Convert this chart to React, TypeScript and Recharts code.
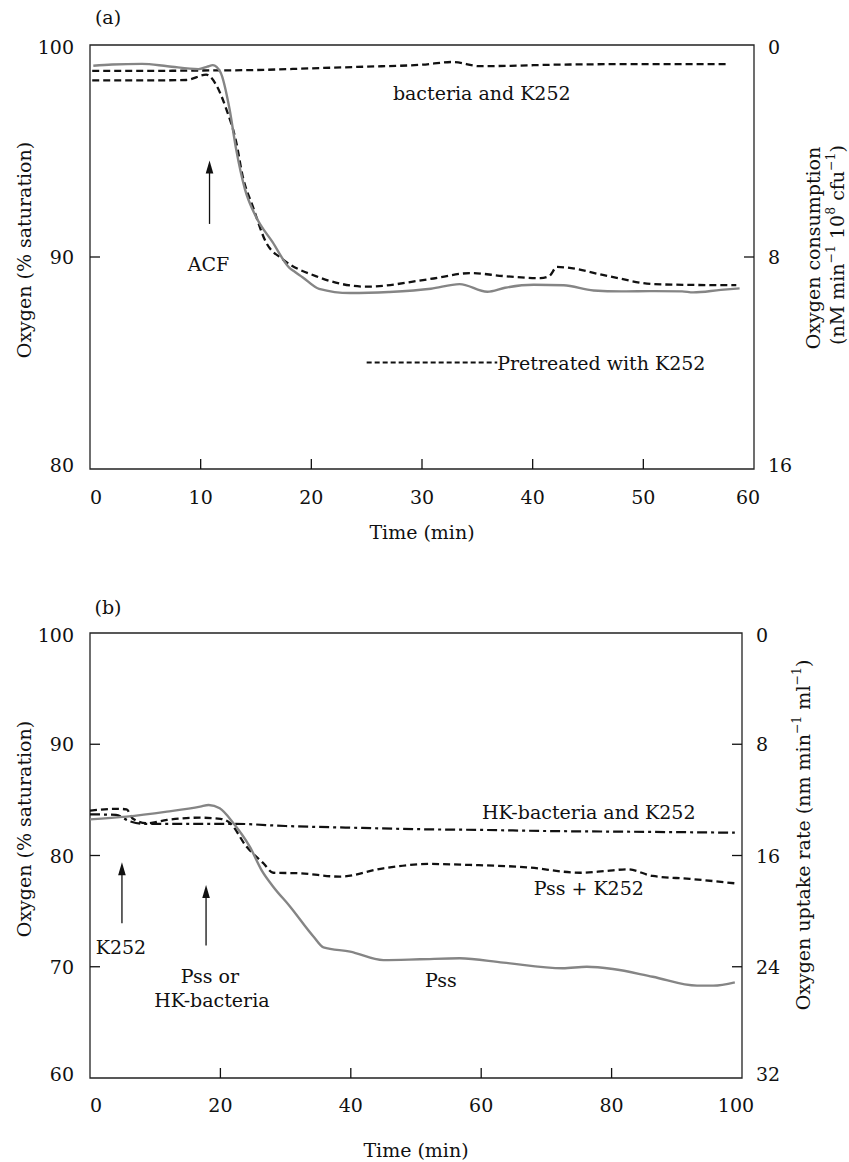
import React from 'react';
import { ComposedChart, Line, XAxis, YAxis, ReferenceArea, ReferenceLine, ReferenceDot } from 'recharts';

const FONT = "'DejaVu Serif', 'Liberation Serif', serif";
const INK = '#111';
const GRAY = '#858585';
const FS = 19;

// ---------- Panel (a) data ----------
const acfTime = [0.3, 2, 4.7, 7, 9.8, 10.6, 11.1, 11.8, 12.6, 13.2, 14, 15, 16.5, 18, 18.5, 19.2, 20.7, 23.5, 27, 30.8, 33.4, 35.9, 37.5, 40.1, 42.8, 45.5, 48, 51, 53.5, 54.5, 57, 58.7];
const acfO2 = [99.02, 99.08, 99.11, 99.0, 98.86, 98.98, 99.05, 98.7, 97.0, 95.1, 93.2, 91.9, 90.7, 89.5, 89.3, 89.05, 88.5, 88.3, 88.35, 88.5, 88.72, 88.36, 88.55, 88.69, 88.67, 88.42, 88.38, 88.39, 88.38, 88.33, 88.45, 88.52];

const preTime = [0.2, 5, 8.7, 10.5, 11.4, 12.3, 13.2, 13.8, 14.7, 15.9, 17.4, 20.4, 25, 30.7, 34.4, 37.4, 40.7, 41.5, 42.2, 43.1, 46.8, 51, 55, 58.4];
const preO2 = [98.33, 98.33, 98.35, 98.6, 98.12, 97.0, 95.45, 93.8, 92.4, 90.7, 89.9, 89.1, 88.6, 88.96, 89.24, 89.1, 89.0, 89.1, 89.53, 89.5, 89.1, 88.72, 88.68, 88.67];

const bkTime = [0.2, 5, 11, 15, 20, 25, 30, 32.8, 35.2, 38, 41.9, 50, 57.7];
const bkO2 = [98.78, 98.78, 98.8, 98.82, 98.9, 98.98, 99.07, 99.2, 99.0, 99.02, 99.07, 99.1, 99.1];

const xTicksA = [0, 10, 20, 30, 40, 50, 60];
const yTicksA = [80, 90, 100];

// ---------- Panel (b) data ----------
const pssTime = [0, 5.6, 11.8, 16.9, 18.2, 19.9, 22, 24.5, 26.4, 28.1, 30.7, 34.3, 35.8, 39.9, 45, 50.6, 56.7, 63.4, 72.5, 76.2, 80.2, 86.3, 93.1, 95.6, 98.9];
const pssO2 = [83.25, 83.49, 83.94, 84.39, 84.54, 84.24, 82.9, 80.8, 78.6, 77.2, 75.4, 72.7, 71.75, 71.36, 70.6, 70.67, 70.76, 70.37, 69.86, 70.0, 69.8, 69.1, 68.3, 68.3, 68.6];

const pkTime = [0, 4, 5.6, 6.6, 8.7, 11.8, 16.9, 20, 21.5, 24, 26.6, 28.1, 32.2, 38.3, 45, 52.1, 58.3, 67, 75.2, 79, 82.4, 86.3, 92, 98.9];
const pkO2 = [84.03, 84.2, 84.15, 83.3, 82.9, 83.2, 83.4, 83.3, 82.9, 80.8, 79.3, 78.45, 78.4, 78.1, 78.85, 79.24, 79.15, 78.94, 78.45, 78.6, 78.76, 78.16, 77.9, 77.5];

const hkTime = [0, 4, 6, 8, 15, 22, 30, 40, 52, 60, 70, 80, 90, 98.9];
const hkO2 = [83.7, 83.65, 83.1, 82.85, 82.85, 82.85, 82.65, 82.5, 82.35, 82.3, 82.2, 82.15, 82.1, 82.05];

const xTicksB = [0, 20, 40, 60, 80, 100];
const yTicksB = [60, 70, 80, 90, 100];

const toRows = (ts: number[], vs: number[]) => ts.map((t, i) => ({ t, v: vs[i] }));
const acfData = toRows(acfTime, acfO2);
const preData = toRows(preTime, preO2);
const bkData = toRows(bkTime, bkO2);
const pssData = toRows(pssTime, pssO2);
const pkData = toRows(pkTime, pkO2);
const hkData = toRows(hkTime, hkO2);

// right-axis conversion (oxygen % -> consumption)
const rightFmt = (v: number) => String(Math.round((100 - v) * 0.8));

const txt = { fontFamily: FONT, fontSize: FS, fill: INK } as const;

function xTick(inner: number[], min: number, max: number, dyLabel: number) {
  return (props: any) => {
    const { x, y, payload } = props;
    const v = payload.value;
    const dx = v === min ? 6 : v === max ? -6 : 0;
    return (
      <g>
        {inner.includes(v) && <line x1={x} y1={y} x2={x} y2={y - 10} stroke={INK} strokeWidth={1.3} />}
        <text x={x + dx} y={y + dyLabel} textAnchor="middle" dominantBaseline="central" {...txt}>{v}</text>
      </g>
    );
  };
}

function leftTick(inner: number[], min: number, max: number) {
  return (props: any) => {
    const { x, y, payload } = props;
    const v = payload.value;
    const dy = v === max ? 2 : v === min ? -4 : 0;
    return (
      <g>
        {inner.includes(v) && <line x1={x} y1={y} x2={x + 10} y2={y} stroke={INK} strokeWidth={1.3} />}
        <text x={x - 16} y={y + dy} textAnchor="end" dominantBaseline="central" {...txt}>{v}</text>
      </g>
    );
  };
}

function rightTick(inner: number[], min: number, max: number) {
  return (props: any) => {
    const { x, y, payload } = props;
    const v = payload.value;
    const dy = v === max ? 2 : v === min ? -4 : 0;
    return (
      <g>
        {inner.includes(v) && <line x1={x} y1={y} x2={x - 10} y2={y} stroke={INK} strokeWidth={1.3} />}
        <text x={x + 14} y={y + dy} textAnchor="start" dominantBaseline="central" {...txt}>{rightFmt(v)}</text>
      </g>
    );
  };
}

const textShape = (label: string, anchor: 'start' | 'middle' | 'end' = 'middle') => (p: any) => (
  <text x={p.cx} y={p.cy} textAnchor={anchor} dominantBaseline="central" {...txt}>{label}</text>
);

const arrowHead = (p: any) => (
  <path d={`M${p.cx},${p.cy} L${p.cx - 3.8},${p.cy + 13} L${p.cx + 3.8},${p.cy + 13} Z`} fill={INK} />
);

const SUP = 12.5;
const UP = -7;

function ChartA() {
  return (
    <ComposedChart width={849} height={560} margin={{ top: 45, right: 20, bottom: 16, left: 20 }}>
      <XAxis
        dataKey="t"
        type="number"
        domain={[0, 60]}
        ticks={xTicksA}
        interval={0}
        allowDataOverflow
        height={75}
        axisLine={false}
        tickLine={false}
        tickSize={0}
        tickMargin={0}
        tick={xTick([10, 20, 30, 40, 50], 0, 60, 28)}
        label={(p: any) => (
          <text x={p.viewBox.x + p.viewBox.width / 2} y={p.viewBox.y + 63} textAnchor="middle" dominantBaseline="central" {...txt}>Time (min)</text>
        )}
      />
      <YAxis
        yAxisId="l"
        type="number"
        domain={[80, 100]}
        ticks={yTicksA}
        interval={0}
        allowDataOverflow
        width={70}
        axisLine={false}
        tickLine={false}
        tickSize={0}
        tickMargin={0}
        tick={leftTick([90], 80, 100)}
        label={() => (
          <g>
            <text x={108} y={17} textAnchor="middle" dominantBaseline="central" {...txt}>(a)</text>
            <text x={24} y={250} transform="rotate(-90, 24, 250)" textAnchor="middle" dominantBaseline="central" {...txt}>Oxygen (% saturation)</text>
          </g>
        )}
      />
      <YAxis
        yAxisId="r"
        orientation="right"
        type="number"
        domain={[80, 100]}
        ticks={yTicksA}
        interval={0}
        allowDataOverflow
        width={75}
        axisLine={false}
        tickLine={false}
        tickSize={0}
        tickMargin={0}
        tick={rightTick([90], 80, 100)}
        label={() => (
          <g>
            <text x={813} y={248} transform="rotate(-90, 813, 248)" textAnchor="middle" dominantBaseline="central" {...txt}>Oxygen consumption</text>
            <text x={837} y={245} transform="rotate(-90, 837, 245)" textAnchor="middle" dominantBaseline="central" {...txt}>
              <tspan>(nM min</tspan>
              <tspan fontSize={SUP} dy={UP}>−1</tspan>
              <tspan dy={-UP}> 10</tspan>
              <tspan fontSize={SUP} dy={UP}>8</tspan>
              <tspan dy={-UP}> cfu</tspan>
              <tspan fontSize={SUP} dy={UP}>−1</tspan>
              <tspan dy={-UP}>)</tspan>
            </text>
          </g>
        )}
      />
      <ReferenceArea yAxisId="l" x1={0} x2={60} y1={80} y2={100} fill="none" stroke="#222" strokeWidth={1.3} ifOverflow="visible" />

      <Line yAxisId="l" data={bkData} dataKey="v" type="monotone" dot={false} stroke={INK} strokeWidth={2.3} strokeDasharray="7 4" isAnimationActive={false} />
      <Line yAxisId="l" data={preData} dataKey="v" type="monotone" dot={false} stroke={INK} strokeWidth={2.3} strokeDasharray="7 4" isAnimationActive={false} />
      <Line yAxisId="l" data={acfData} dataKey="v" type="monotone" dot={false} stroke={GRAY} strokeWidth={2.4} isAnimationActive={false} />

      <ReferenceDot yAxisId="l" x={35.4} y={97.73} r={1} shape={textShape('bacteria and K252')} />
      <ReferenceLine yAxisId="l" segment={[{ x: 10.8, y: 91.56 }, { x: 10.8, y: 94.2 }]} stroke={INK} strokeWidth={1.3} />
      <ReferenceDot yAxisId="l" x={10.8} y={94.55} r={1} shape={arrowHead} />
      <ReferenceDot yAxisId="l" x={10.7} y={89.67} r={1} shape={textShape('ACF')} />
      <ReferenceLine yAxisId="l" segment={[{ x: 25.0, y: 85.02 }, { x: 36.8, y: 85.02 }]} stroke={INK} strokeWidth={2} strokeDasharray="5 3" />
      <ReferenceDot yAxisId="l" x={36.8} y={85.02} r={1} shape={textShape('Pretreated with K252', 'start')} />
    </ComposedChart>
  );
}

function ChartB() {
  return (
    <ComposedChart width={849} height={582} margin={{ top: 53, right: 20, bottom: 9, left: 20 }}>
      <XAxis
        dataKey="t"
        type="number"
        domain={[0, 100]}
        ticks={xTicksB}
        interval={0}
        allowDataOverflow
        height={75}
        axisLine={false}
        tickLine={false}
        tickSize={0}
        tickMargin={0}
        tick={xTick([20, 40, 60, 80], 0, 100, 27)}
        label={(p: any) => (
          <text x={p.viewBox.x + p.viewBox.width / 2} y={p.viewBox.y + 72} textAnchor="middle" dominantBaseline="central" {...txt}>Time (min)</text>
        )}
      />
      <YAxis
        yAxisId="l"
        type="number"
        domain={[60, 100]}
        ticks={yTicksB}
        interval={0}
        allowDataOverflow
        width={70}
        axisLine={false}
        tickLine={false}
        tickSize={0}
        tickMargin={0}
        tick={leftTick([70, 80, 90], 60, 100)}
        label={() => (
          <g>
            <text x={108} y={27} textAnchor="middle" dominantBaseline="central" {...txt}>(b)</text>
            <text x={24} y={249} transform="rotate(-90, 24, 249)" textAnchor="middle" dominantBaseline="central" {...txt}>Oxygen (% saturation)</text>
          </g>
        )}
      />
      <YAxis
        yAxisId="r"
        orientation="right"
        type="number"
        domain={[60, 100]}
        ticks={yTicksB}
        interval={0}
        allowDataOverflow
        width={87}
        axisLine={false}
        tickLine={false}
        tickSize={0}
        tickMargin={0}
        tick={rightTick([70, 80, 90], 60, 100)}
        label={() => (
          <text x={803} y={255} transform="rotate(-90, 803, 255)" textAnchor="middle" dominantBaseline="central" {...txt}>
            <tspan>Oxygen uptake rate (nm min</tspan>
            <tspan fontSize={SUP} dy={UP}>−1</tspan>
            <tspan dy={-UP}> ml</tspan>
            <tspan fontSize={SUP} dy={UP}>−1</tspan>
            <tspan dy={-UP}>)</tspan>
          </text>
        )}
      />
      <ReferenceArea yAxisId="l" x1={0} x2={100} y1={60} y2={100} fill="none" stroke="#222" strokeWidth={1.3} ifOverflow="visible" />

      <Line yAxisId="l" data={hkData} dataKey="v" type="monotone" dot={false} stroke={INK} strokeWidth={2.2} strokeDasharray="10 4 3 4" isAnimationActive={false} />
      <Line yAxisId="l" data={pkData} dataKey="v" type="monotone" dot={false} stroke={INK} strokeWidth={2.3} strokeDasharray="7 4" isAnimationActive={false} />
      <Line yAxisId="l" data={pssData} dataKey="v" type="monotone" dot={false} stroke={GRAY} strokeWidth={2.4} isAnimationActive={false} />

      <ReferenceDot yAxisId="l" x={76.5} y={83.94} r={1} shape={textShape('HK-bacteria and K252')} />
      <ReferenceDot yAxisId="l" x={76.5} y={77.1} r={1} shape={textShape('Pss + K252')} />
      <ReferenceDot yAxisId="l" x={53.8} y={68.8} r={1} shape={textShape('Pss')} />

      <ReferenceLine yAxisId="l" segment={[{ x: 4.9, y: 73.9 }, { x: 4.9, y: 79.0 }]} stroke={INK} strokeWidth={1.3} />
      <ReferenceDot yAxisId="l" x={4.9} y={79.4} r={1} shape={arrowHead} />
      <ReferenceDot yAxisId="l" x={4.75} y={71.8} r={1} shape={textShape('K252')} />

      <ReferenceLine yAxisId="l" segment={[{ x: 17.8, y: 71.9 }, { x: 17.8, y: 77.0 }]} stroke={INK} strokeWidth={1.3} />
      <ReferenceDot yAxisId="l" x={17.8} y={77.35} r={1} shape={arrowHead} />
      <ReferenceDot yAxisId="l" x={18.4} y={69.2} r={1} shape={textShape('Pss or')} />
      <ReferenceDot yAxisId="l" x={18.7} y={67.0} r={1} shape={textShape('HK-bacteria')} />
    </ComposedChart>
  );
}

export default function App() {
  return (
    <div style={{ position: 'absolute', left: 0, top: 0, width: 849, height: 1162, background: '#fff' }}>
      <div style={{ position: 'absolute', left: 0, top: 0 }}>
        <ChartA />
      </div>
      <div style={{ position: 'absolute', left: 0, top: 580 }}>
        <ChartB />
      </div>
    </div>
  );
}
